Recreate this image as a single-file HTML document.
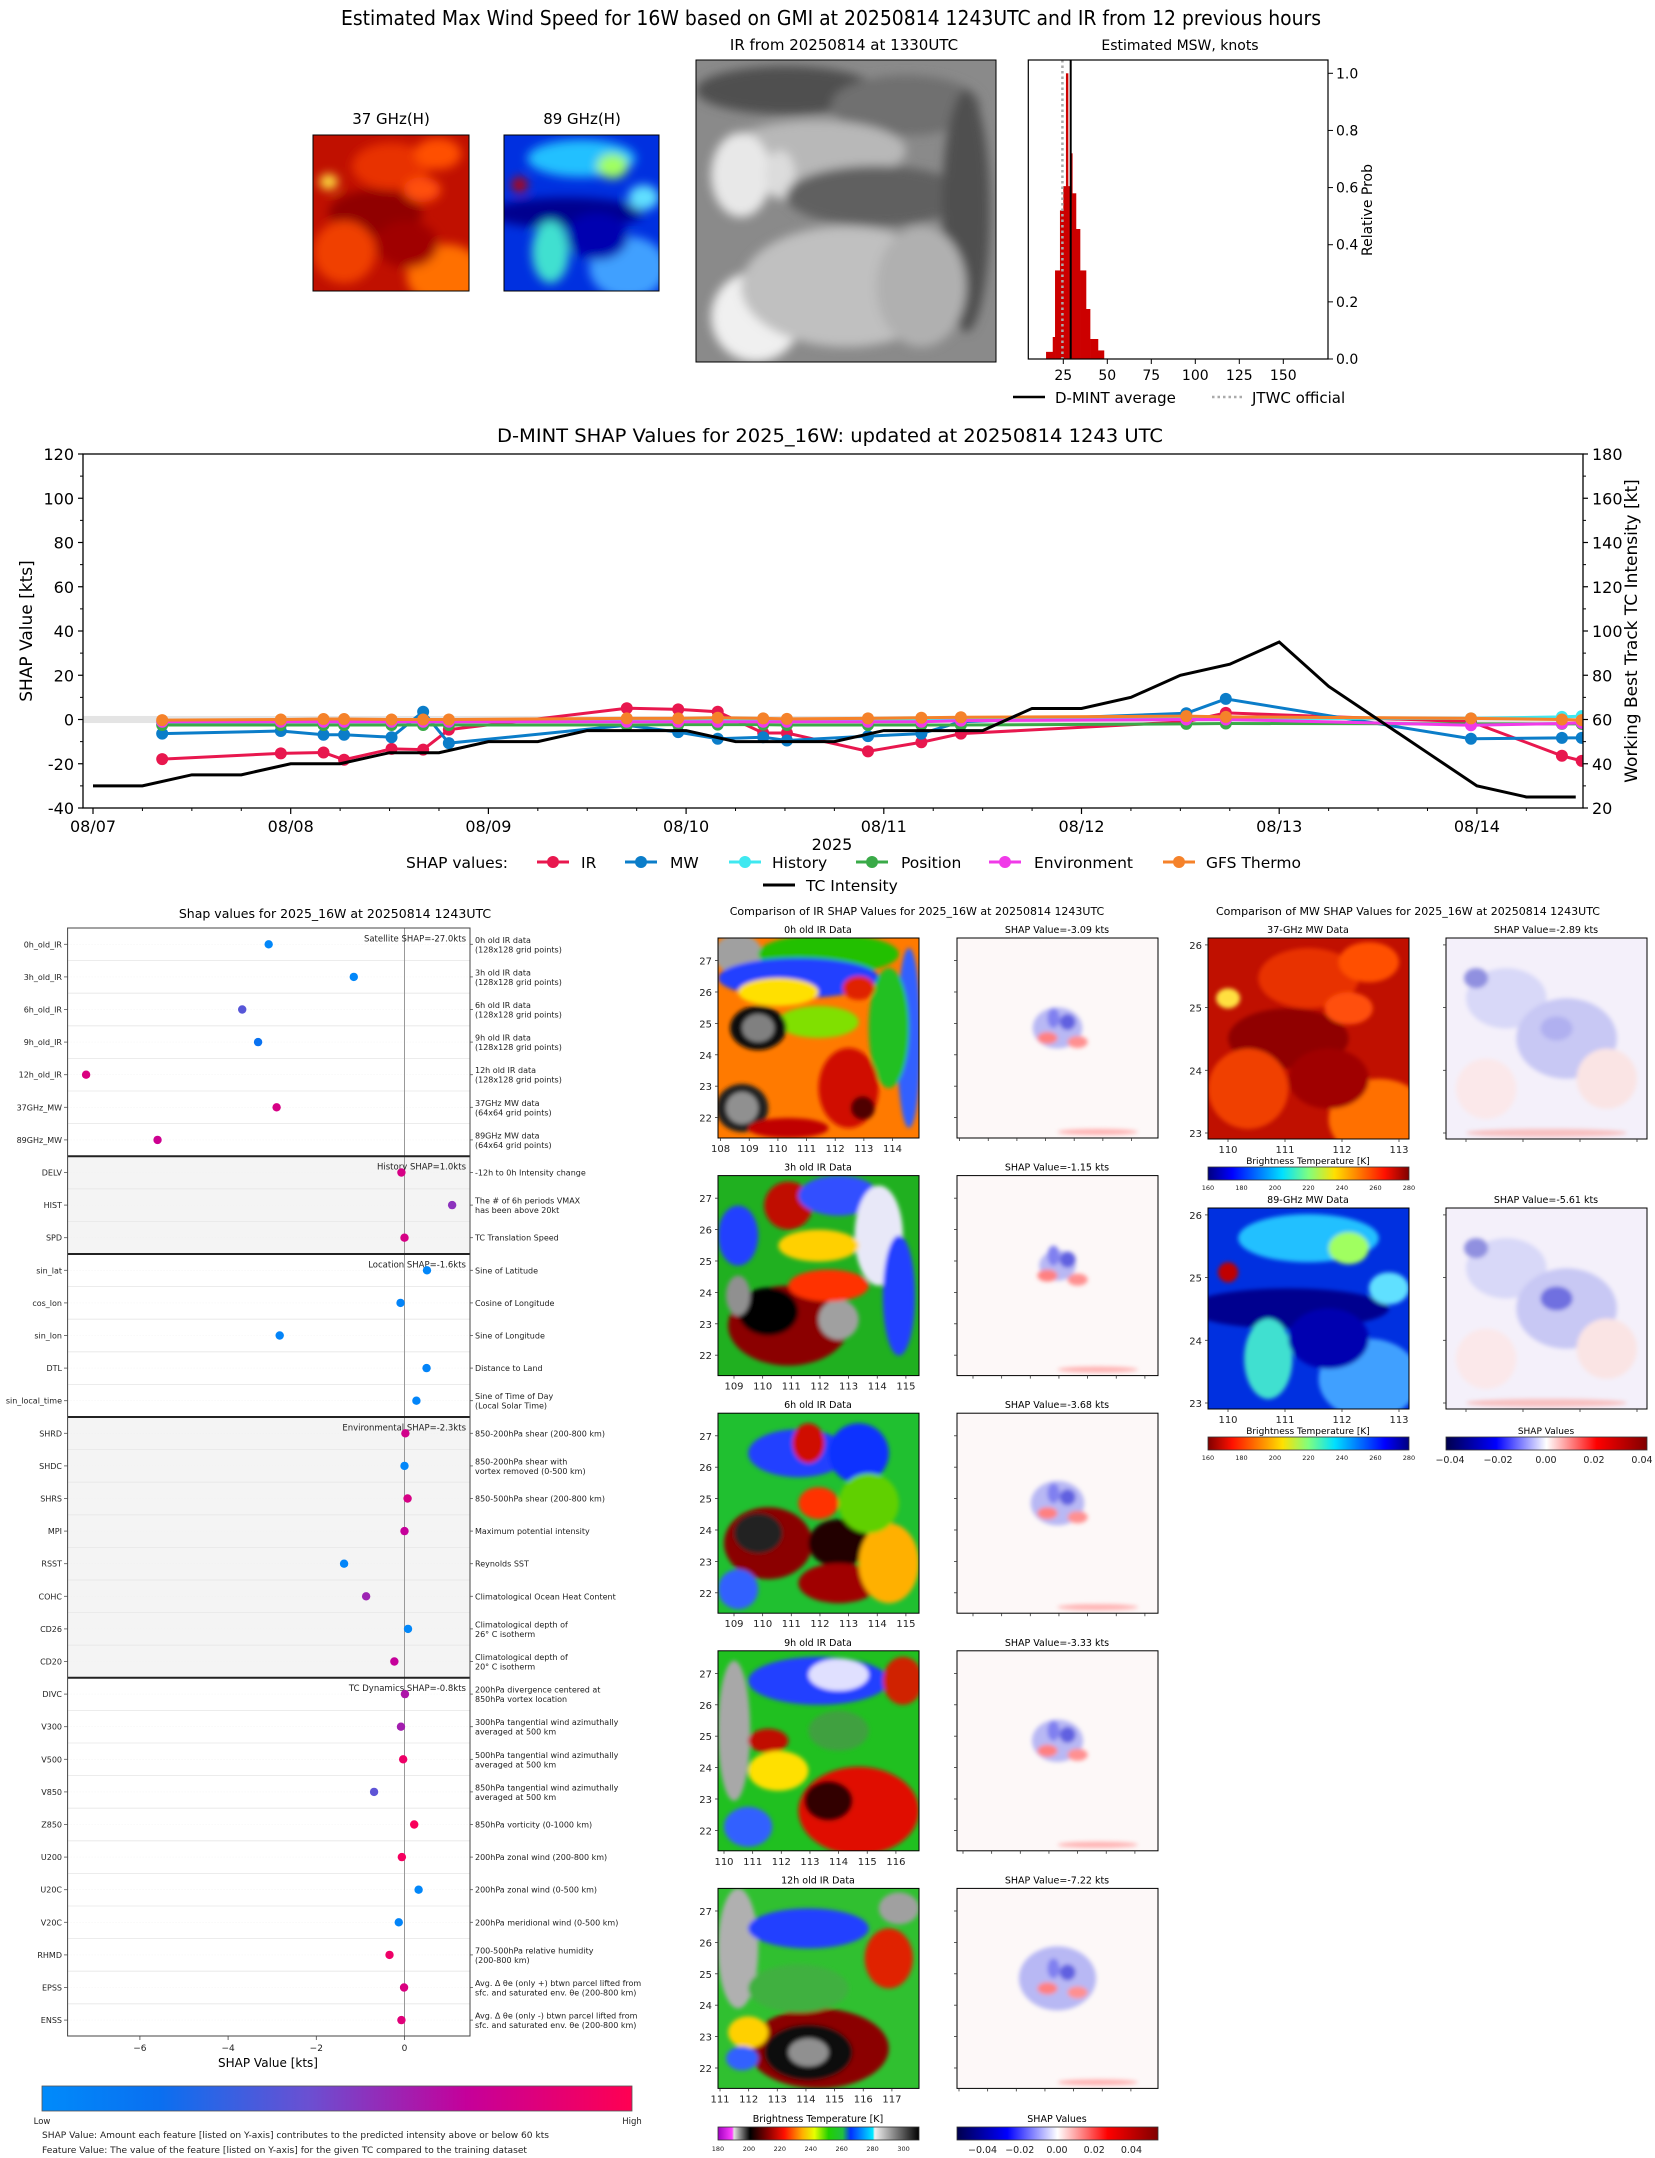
<!DOCTYPE html>
<html><head><meta charset="utf-8">
<style>
html,body{margin:0;padding:0;background:#fff;}
svg{display:block;font-family:"DejaVu Sans","Liberation Sans",sans-serif;}
</style></head>
<body>
<svg id="root" width="1655" height="2158" viewBox="0 0 1655 2158" xmlns="http://www.w3.org/2000/svg">
<defs>
<filter id="bl" x="-20%" y="-20%" width="140%" height="140%"><feGaussianBlur stdDeviation="5"/></filter>
<filter id="bl2" x="-20%" y="-20%" width="140%" height="140%"><feGaussianBlur stdDeviation="2"/></filter>
<linearGradient id="gShap" x1="0" x2="1"><stop offset="0" stop-color="#008bfb"/><stop offset="0.2" stop-color="#0a6ff0"/><stop offset="0.45" stop-color="#6a50d2"/><stop offset="0.72" stop-color="#c5009a"/><stop offset="1" stop-color="#ff0052"/></linearGradient>
<linearGradient id="gIR" x1="0" x2="1"><stop offset="0" stop-color="#a000c0"/><stop offset="0.07" stop-color="#ff40ff"/><stop offset="0.08" stop-color="#e0e0e0"/><stop offset="0.16" stop-color="#000"/><stop offset="0.25" stop-color="#8b0000"/><stop offset="0.33" stop-color="#ff1000"/><stop offset="0.42" stop-color="#ffb000"/><stop offset="0.48" stop-color="#e8ff00"/><stop offset="0.55" stop-color="#20d000"/><stop offset="0.62" stop-color="#20c040"/><stop offset="0.66" stop-color="#0030ff"/><stop offset="0.77" stop-color="#00e8ff"/><stop offset="0.78" stop-color="#f0f0f0"/><stop offset="1" stop-color="#000"/></linearGradient>
<linearGradient id="gJet" x1="0" x2="1"><stop offset="0" stop-color="#00007f"/><stop offset="0.12" stop-color="#0000ff"/><stop offset="0.37" stop-color="#00e0ff"/><stop offset="0.5" stop-color="#7fff7f"/><stop offset="0.63" stop-color="#ffe000"/><stop offset="0.88" stop-color="#ff1000"/><stop offset="1" stop-color="#7f0000"/></linearGradient>
<linearGradient id="gJetR" x1="1" x2="0"><stop offset="0" stop-color="#00007f"/><stop offset="0.12" stop-color="#0000ff"/><stop offset="0.37" stop-color="#00e0ff"/><stop offset="0.5" stop-color="#7fff7f"/><stop offset="0.63" stop-color="#ffe000"/><stop offset="0.88" stop-color="#ff1000"/><stop offset="1" stop-color="#7f0000"/></linearGradient>
<linearGradient id="gSeis" x1="0" x2="1"><stop offset="0" stop-color="#00004c"/><stop offset="0.25" stop-color="#0000ff"/><stop offset="0.5" stop-color="#ffffff"/><stop offset="0.75" stop-color="#ff0000"/><stop offset="1" stop-color="#800000"/></linearGradient>
<clipPath id="mainClip"><rect x="83" y="454" width="1500" height="354"/></clipPath>
</defs>
</svg>
<script>
const NS='http://www.w3.org/2000/svg';
const root=document.getElementById('root');
function mk(tag,attrs,parent,name,inter){
  const el=document.createElementNS(NS,tag);
  for(const k in attrs) el.setAttribute(k,attrs[k]);
  
  
  (parent||root).appendChild(el);
  return el;
}
function txt(x,y,s,size,anchor,parent,name,extra){
  const a={x:x,y:y,'font-size':size,'text-anchor':anchor||'start',fill:'#000'};
  if(extra) for(const k in extra) a[k]=extra[k];
  const el=mk('text',a,parent,name);
  el.textContent=s;
  return el;
}
function line(x1,y1,x2,y2,stroke,w,parent,name,extra){
  const a={x1:x1,y1:y1,x2:x2,y2:y2,stroke:stroke,'stroke-width':w};
  if(extra) for(const k in extra) a[k]=extra[k];
  return mk('line',a,parent,name);
}
function blobs(x,y,w,h,base,list,name,blurId){
  const g=mk('g',{},root,name);
  const cid='c'+name;
  const cp=mk('clipPath',{id:cid},g,name+'-clip');
  mk('rect',{x:x,y:y,width:w,height:h},cp,name+'-cliprect');
  const inner=mk('g',{'clip-path':'url(#'+cid+')'},g,name+'-content');
  mk('rect',{x:x,y:y,width:w,height:h,fill:base},inner,name+'-base');
  const bg=mk('g',{filter:'url(#'+(blurId||'bl')+')'},inner,name+'-blobs');
  list.forEach(b=>{
    mk('ellipse',{cx:x+b[0]*w,cy:y+b[1]*h,rx:b[2]*w,ry:b[3]*h,fill:b[4]},bg,name+'-patch');
  });
  mk('rect',{x:x,y:y,width:w,height:h,fill:'none',stroke:'#000','stroke-width':1},g,name+'-frame');
  return g;
}

/* ================= TOP SECTION ================= */
txt(831,25,'Estimated Max Wind Speed for 16W based on GMI at 20250814 1243UTC and IR from 12 previous hours',20,'middle',root,'figure-title',{textLength:980,lengthAdjust:'spacingAndGlyphs'});
txt(391,124,'37 GHz(H)',15,'middle',root,'title-37ghz');
txt(582,124,'89 GHz(H)',15,'middle',root,'title-89ghz');
txt(844,50,'IR from 20250814 at 1330UTC',15,'middle',root,'title-ir-image');
txt(1180,50,'Estimated MSW, knots',14,'middle',root,'title-msw-histogram');

const mw37=[[0.1,0.3,0.06,0.05,'#ffe040'],[0.5,0.2,0.25,0.15,'#e83000'],[0.8,0.12,0.15,0.1,'#ff5000'],[0.4,0.5,0.3,0.15,'#900000'],[0.2,0.75,0.2,0.2,'#f04000'],[0.85,0.9,0.25,0.2,'#ff7000'],[0.6,0.7,0.2,0.15,'#a00000'],[0.7,0.35,0.12,0.08,'#ff5010']];
const mw89=[[0.1,0.32,0.05,0.05,'#c00000'],[0.5,0.15,0.35,0.12,'#20c0ff'],[0.7,0.2,0.1,0.08,'#a0ff60'],[0.4,0.5,0.5,0.1,'#00008f'],[0.3,0.75,0.12,0.2,'#40e0d0'],[0.8,0.85,0.25,0.2,'#40a0ff'],[0.9,0.4,0.1,0.08,'#60e0ff'],[0.6,0.65,0.2,0.15,'#0000b0']];
blobs(313,135,156,156,'#c01000',mw37,'top-37ghz-image');
blobs(504,135,155,156,'#0030e0',mw89,'top-89ghz-image');
blobs(696,60,300,302,'#8a8a8a',[[0.3,0.1,0.3,0.08,'#505050'],[0.7,0.15,0.25,0.1,'#707070'],[0.4,0.3,0.3,0.1,'#b8b8b8'],[0.15,0.38,0.1,0.14,'#e8e8e8'],[0.28,0.38,0.05,0.08,'#dcdcdc'],[0.6,0.45,0.3,0.1,'#606060'],[0.2,0.85,0.15,0.15,'#f0f0f0'],[0.5,0.75,0.35,0.2,'#c0c0c0'],[0.9,0.5,0.08,0.4,'#505050'],[0.75,0.75,0.15,0.2,'#b0b0b0']],'top-ir-image');

/* histogram */
const histEdges=[15.2,19.0,20.3,23.1,25.0,26.5,27.7,28.8,30.1,32.2,34.5,37.9,40.2,44.7,48.1];
const histProb=[0.025,0.077,0.31,0.52,0.605,1.0,0.605,0.72,0.58,0.455,0.31,0.175,0.07,0.03];
const histXTicks=[25,50,75,100,125,150];
const histYTicks=[0.0,0.2,0.4,0.6,0.8,1.0];
const dmintMean=29.2, jtwcOfficial=24.5;
const hx=k=>1019.3+k*1.76, hy=p=>359-p*285.7;
const hg=mk('g',{},root,'msw-histogram');
for(let i=0;i<histProb.length;i++){
  mk('rect',{x:hx(histEdges[i]),y:hy(histProb[i]),width:hx(histEdges[i+1])-hx(histEdges[i])+0.3,height:hy(0)-hy(histProb[i]),fill:'#cc0000'},hg,'hist-bar');
}
line(hx(jtwcOfficial),60,hx(jtwcOfficial),359,'#aaa',2.5,hg,'jtwc-official-line',{'stroke-dasharray':'2.5,3'});
line(hx(dmintMean),60,hx(dmintMean),359,'#000',2,hg,'dmint-average-line');
mk('rect',{x:1028.3,y:60,width:299.7,height:299,fill:'none',stroke:'#000','stroke-width':1.2},hg,'hist-frame');
histXTicks.forEach(v=>{line(hx(v),359,hx(v),364,'#000',1,hg,'hist-xtick');txt(hx(v),380,String(v),14,'middle',hg,'hist-xtick-label');});
histYTicks.forEach(v=>{line(1328,hy(v),1333,hy(v),'#000',1,hg,'hist-ytick');txt(1336,hy(v)+5,v.toFixed(1),14,'start',hg,'hist-ytick-label');});
txt(1372,210,'Relative Prob',14,'middle',hg,'hist-y-title',{transform:'rotate(-90 1372 210)'});
line(1013,397,1045,397,'#000',2.5,hg,'legend-dmint-swatch');
txt(1055,403,'D-MINT average',15,'start',hg,'legend-dmint-average');
line(1212,397,1243,397,'#aaa',2.5,hg,'legend-jtwc-swatch',{'stroke-dasharray':'2.5,3'});
txt(1252,403,'JTWC official',15,'start',hg,'legend-jtwc-official');

/* ================= MAIN TIME SERIES ================= */
const dayLabels=['08/07','08/08','08/09','08/10','08/11','08/12','08/13','08/14'];
const leftTicks=[-40,-20,0,20,40,60,80,100,120];
const rightTicks=[20,40,60,80,100,120,140,160,180];
const shapTimes=[0.35,0.95,1.166,1.27,1.51,1.67,1.80,2.70,2.96,3.16,3.39,3.51,3.92,4.19,4.39,5.53,5.73,6.97,7.43,7.53];
const irVals=[-17.9,-15.3,-14.9,-18.2,-13.3,-13.6,-4.6,5.1,4.6,3.5,-6.1,-6.1,-14.4,-10.3,-6.4,-1.0,3.0,-1.0,-16.4,-18.7];
const mwVals=[-6.4,-5.2,-6.9,-6.9,-8.0,3.5,-10.7,-2.6,-5.7,-8.7,-8.0,-9.5,-7.5,-6.4,-1.0,2.8,9.3,-8.7,-8.3,-8.3];
const histVals=[-1.5,-1,-1,-1,-1,-1,-1,-0.5,-0.5,-0.5,-0.5,-0.5,0,0,0,0.5,0.5,0.5,1.2,1.5];
const posVals=[-2.5,-2.5,-2.5,-2.5,-2.5,-2.5,-2.5,-2.5,-2.3,-2.3,-2.3,-2.5,-2.5,-2.5,-2.5,-2.0,-1.8,-2.0,-2.0,-2.0];
const envVals=[-1,-1,-1,-1,-1,-1,-1,-1,-1,-1,-1,-1,-1,-1,-0.5,0,0,-2.6,-1.8,-1.5];
const gfsVals=[-0.3,0,0.2,0.2,0,0,0,0.5,0.5,0.8,0.5,0.3,0.5,0.8,1.0,1.5,1.2,0.5,0,-0.3];
const tcTimes=[0,0.25,0.5,0.75,1,1.25,1.5,1.75,2,2.25,2.5,2.75,3,3.25,3.5,3.75,4,4.25,4.5,4.75,5,5.25,5.5,5.75,6,6.25,6.5,6.75,7,7.25,7.5];
const tcInt=[30,30,35,35,40,40,45,45,50,50,55,55,55,50,50,50,55,55,55,65,65,70,80,85,95,75,60,45,30,25,25];
const xT=d=>93+d*197.7, yS=v=>808-(v+40)*2.2125, yI=k=>yS(k-60);
const mg=mk('g',{},root,'shap-timeseries-chart');
txt(830,442,'D-MINT SHAP Values for 2025_16W: updated at 20250814 1243 UTC',19,'middle',mg,'timeseries-title',{textLength:666,lengthAdjust:'spacingAndGlyphs'});
const plot=mk('g',{'clip-path':'url(#mainClip)'},mg,'timeseries-plot-area');
mk('rect',{x:83,y:yS(1.6),width:1500,height:yS(-1.6)-yS(1.6),fill:'#e4e4e4'},plot,'zero-band');
const series=[['ir',irVals,'#e8174e'],['mw',mwVals,'#0b7dc9'],['history',histVals,'#3fe8f0'],['position',posVals,'#3aaa48'],['environment',envVals,'#f03ae8'],['gfs-thermo',gfsVals,'#f5822a']];
series.forEach(s=>{
  const pts=shapTimes.map((t,i)=>xT(t)+','+yS(s[1][i])).join(' ');
  mk('polyline',{points:pts,fill:'none',stroke:s[2],'stroke-width':3},plot,s[0]+'-line');
  shapTimes.forEach((t,i)=>{mk('circle',{cx:xT(t),cy:yS(s[1][i]),r:6,fill:s[2]},plot,s[0]+'-point');});
});
mk('polyline',{points:tcTimes.map((t,i)=>xT(t)+','+yI(tcInt[i])).join(' '),fill:'none',stroke:'#000','stroke-width':3},plot,'tc-intensity-line');
mk('rect',{x:83,y:454,width:1500,height:354,fill:'none',stroke:'#000','stroke-width':1.3},mg,'timeseries-frame');
leftTicks.forEach(v=>{line(78,yS(v),83,yS(v),'#000',1.2,mg,'left-ytick');txt(74,yS(v)+6,String(v),16,'end',mg,'left-ytick-label');});
for(let v=-30;v<120;v+=20){line(80,yS(v),83,yS(v),'#000',1,mg,'left-minor-tick');}
rightTicks.forEach(k=>{line(1583,yI(k),1588,yI(k),'#000',1.2,mg,'right-ytick');txt(1592,yI(k)+6,String(k),16,'start',mg,'right-ytick-label');});
for(let k=30;k<180;k+=20){line(1583,yI(k),1586,yI(k),'#000',1,mg,'right-minor-tick');}
dayLabels.forEach((d,i)=>{line(xT(i),808,xT(i),814,'#000',1.2,mg,'xtick');txt(xT(i),832,d,16,'middle',mg,'xtick-label');});
for(let q=0.25;q<7.5;q+=0.25){if(Math.abs(q-Math.round(q))>0.01)line(xT(q),808,xT(q),811,'#000',1,mg,'x-minor-tick');}
txt(832,850,'2025',16,'middle',mg,'x-axis-title');
txt(32,631,'SHAP Value [kts]',17,'middle',mg,'left-y-axis-title',{transform:'rotate(-90 32 631)'});
txt(1637,631,'Working Best Track TC Intensity [kt]',17,'middle',mg,'right-y-axis-title',{transform:'rotate(-90 1637 631)'});
txt(406,868,'SHAP values:',15.5,'start',mg,'legend-heading');
const legItems=[['IR','#e8174e',553,581],['MW','#0b7dc9',641,670],['History','#3fe8f0',745,772],['Position','#3aaa48',872,901],['Environment','#f03ae8',1005,1034],['GFS Thermo','#f5822a',1179,1206]];
legItems.forEach(l=>{
  line(l[2]-16,862,l[2]+16,862,l[1],3,mg,'legend-swatch-'+l[0].toLowerCase());
  mk('circle',{cx:l[2],cy:862,r:6,fill:l[1]},mg,'legend-marker');
  txt(l[3],868,l[0],15.5,'start',mg,'legend-entry-'+l[0].toLowerCase().replace(' ','-'));
});
line(763,885,795,885,'#000',3,mg,'legend-swatch-tc-intensity');
txt(806,891,'TC Intensity',15.5,'start',mg,'legend-entry-tc-intensity');

/* ================= SHAP FEATURE PANEL ================= */
const featNames=['0h_old_IR','3h_old_IR','6h_old_IR','9h_old_IR','12h_old_IR','37GHz_MW','89GHz_MW','DELV','HIST','SPD','sin_lat','cos_lon','sin_lon','DTL','sin_local_time','SHRD','SHDC','SHRS','MPI','RSST','COHC','CD26','CD20','DIVC','V300','V500','V850','Z850','U200','U20C','V20C','RHMD','EPSS','ENSS'];
const featShap=[-3.08,-1.15,-3.68,-3.32,-7.22,-2.9,-5.6,-0.07,1.08,0,0.51,-0.09,-2.83,0.5,0.27,0.02,0,0.07,0,-1.37,-0.87,0.08,-0.23,0.01,-0.08,-0.03,-0.69,0.22,-0.06,0.32,-0.13,-0.34,-0.01,-0.07];
const featValue=[0.03,0.03,0.4,0.18,0.82,0.8,0.76,0.8,0.55,0.8,0.03,0.05,0.05,0.05,0.04,0.78,0.03,0.8,0.72,0.04,0.6,0.03,0.72,0.65,0.62,0.92,0.42,0.97,0.95,0.03,0.05,0.92,0.82,0.85];
const featDesc=[['0h old IR data','(128x128 grid points)'],['3h old IR data','(128x128 grid points)'],['6h old IR data','(128x128 grid points)'],['9h old IR data','(128x128 grid points)'],['12h old IR data','(128x128 grid points)'],['37GHz MW data','(64x64 grid points)'],['89GHz MW data','(64x64 grid points)'],['-12h to 0h Intensity change'],['The # of 6h periods VMAX','has been above 20kt'],['TC Translation Speed'],['Sine of Latitude'],['Cosine of Longitude'],['Sine of Longitude'],['Distance to Land'],['Sine of Time of Day','(Local Solar Time)'],['850-200hPa shear (200-800 km)'],['850-200hPa shear with','vortex removed (0-500 km)'],['850-500hPa shear (200-800 km)'],['Maximum potential intensity'],['Reynolds SST'],['Climatological Ocean Heat Content'],['Climatological depth of','26° C isotherm'],['Climatological depth of','20° C isotherm'],['200hPa divergence centered at','850hPa vortex location'],['300hPa tangential wind azimuthally','averaged at 500 km'],['500hPa tangential wind azimuthally','averaged at 500 km'],['850hPa tangential wind azimuthally','averaged at 500 km'],['850hPa vorticity (0-1000 km)'],['200hPa zonal wind (200-800 km)'],['200hPa zonal wind (0-500 km)'],['200hPa meridional wind (0-500 km)'],['700-500hPa relative humidity','(200-800 km)'],['Avg. Δ θe (only +) btwn parcel lifted from','sfc. and saturated env. θe (200-800 km)'],['Avg. Δ θe (only -) btwn parcel lifted from','sfc. and saturated env. θe (200-800 km)']];
const groupNames=['Satellite SHAP=-27.0kts','History SHAP=1.0kts','Location SHAP=-1.6kts','Environmental SHAP=-2.3kts','TC Dynamics SHAP=-0.8kts'];
const groupStart=[0,7,10,15,23,34];
const shapXTicks=[-6,-4,-2,0];
const sx=v=>404.5+v*44.1, rowY=i=>944.3+i*32.6;
function cmapShap(t){
  const st=[[0,[0,139,251]],[0.2,[10,111,240]],[0.45,[106,80,210]],[0.72,[197,0,154]],[1,[255,0,82]]];
  for(let i=0;i<st.length-1;i++){if(t<=st[i+1][0]){const f=(t-st[i][0])/(st[i+1][0]-st[i][0]);const c=st[i][1].map((a,j)=>Math.round(a+(st[i+1][1][j]-a)*f));return 'rgb('+c.join(',')+')';}}
  return 'rgb(255,0,82)';
}
const sg=mk('g',{},root,'shap-feature-panel');
txt(335,918,'Shap values for 2025_16W at 20250814 1243UTC',12.5,'middle',sg,'shap-panel-title');
[1,3].forEach(gi=>{mk('rect',{x:67.6,y:928+groupStart[gi]*32.6,width:402.4,height:(groupStart[gi+1]-groupStart[gi])*32.6,fill:'#f4f4f4'},sg,'group-shading');});
for(let i=0;i<featNames.length;i++){
  line(67.6,928+i*32.6,470,928+i*32.6,'#e6e6e6',0.8,sg,'row-divider');
  line(67.6,rowY(i),470,rowY(i),'#f0f0f0',0.6,sg,'row-gridline',{'stroke-dasharray':'1,2'});
}
line(sx(0),928,sx(0),2036,'#999',1,sg,'zero-line');
for(let gi=0;gi<5;gi++){
  if(gi>0) line(67.6,928+groupStart[gi]*32.6,470,928+groupStart[gi]*32.6,'#222',2,sg,'group-separator');
  txt(466,rowY(groupStart[gi])-3,groupNames[gi],8.5,'end',sg,'group-label',{fill:'#222'});
}
featNames.forEach((n,i)=>{
  mk('circle',{cx:sx(featShap[i]),cy:rowY(i),r:4.2,fill:cmapShap(featValue[i])},sg,'shap-dot-'+n.toLowerCase());
  line(64,rowY(i),67.6,rowY(i),'#555',0.8,sg,'feature-tick');
  txt(62,rowY(i)+3,n,8,'end',sg,'feature-label',{fill:'#222'});
  line(470,rowY(i),473,rowY(i),'#555',0.8,sg,'desc-tick');
  const d=featDesc[i];
  if(d.length===1) txt(475,rowY(i)+3,d[0],8,'start',sg,'feature-description',{fill:'#222'});
  else {txt(475,rowY(i)-1.5,d[0],8,'start',sg,'feature-description',{fill:'#222'});txt(475,rowY(i)+8,d[1],8,'start',sg,'feature-description',{fill:'#222'});}
});
mk('rect',{x:67.6,y:928,width:402.4,height:1108,fill:'none',stroke:'#444','stroke-width':1},sg,'shap-panel-frame');
shapXTicks.forEach(v=>{line(sx(v),2036,sx(v),2040,'#444',0.8,sg,'shap-xtick');txt(sx(v),2051,(v<0?'−':'')+Math.abs(v),9,'middle',sg,'shap-xtick-label',{fill:'#222'});});
txt(268,2067,'SHAP Value [kts]',12,'middle',sg,'shap-x-axis-title');
mk('rect',{x:42,y:2086,width:590,height:25,fill:'url(#gShap)',stroke:'#555','stroke-width':0.8},sg,'feature-value-colorbar');
txt(42,2124,'Low',8.5,'middle',sg,'colorbar-low-label',{fill:'#222'});
txt(632,2124,'High',8.5,'middle',sg,'colorbar-high-label',{fill:'#222'});
txt(42,2138,'SHAP Value: Amount each feature [listed on Y-axis] contributes to the predicted intensity above or below 60 kts',8.6,'start',sg,'footnote-shap-value',{fill:'#222',textLength:507,lengthAdjust:'spacingAndGlyphs'});
txt(42,2153,'Feature Value: The value of the feature [listed on Y-axis] for the given TC compared to the training dataset',8.6,'start',sg,'footnote-feature-value',{fill:'#222',textLength:485,lengthAdjust:'spacingAndGlyphs'});

/* ================= IR SHAP COMPARISON ================= */
txt(917,915,'Comparison of IR SHAP Values for 2025_16W at 20250814 1243UTC',11,'middle',root,'ir-comparison-title');
txt(1408,915,'Comparison of MW SHAP Values for 2025_16W at 20250814 1243UTC',11,'middle',root,'mw-comparison-title');
const irLabels=['0h old IR Data','3h old IR Data','6h old IR Data','9h old IR Data','12h old IR Data'];
const irShapVals=['-3.09','-1.15','-3.68','-3.33','-7.22'];
const irLon0=[108,109,109,110,111];
const irLonOff=[2.6,16,16,6,2];
const latTicks=[22,23,24,25,26,27];
const irImgs=[
 ['#ff7a00',[[0.1,0.08,0.12,0.1,'#a0a0a0'],[0.55,0.08,0.35,0.1,'#22c000'],[0.4,0.2,0.4,0.1,'#2040ff'],[0.3,0.27,0.2,0.07,'#ffe000'],[0.95,0.5,0.06,0.45,'#3060ff'],[0.85,0.45,0.1,0.3,'#20c020'],[0.5,0.42,0.2,0.08,'#80e000'],[0.2,0.45,0.14,0.11,'#101010'],[0.2,0.45,0.08,0.07,'#808080'],[0.12,0.85,0.13,0.12,'#202020'],[0.12,0.85,0.08,0.08,'#909090'],[0.65,0.75,0.15,0.2,'#d01000'],[0.72,0.85,0.06,0.06,'#500000'],[0.35,0.95,0.2,0.05,'#c00000'],[0.7,0.25,0.08,0.06,'#e02000']]],
 ['#20b020',[[0.35,0.15,0.12,0.12,'#c01000'],[0.6,0.1,0.2,0.1,'#3050ff'],[0.8,0.3,0.12,0.25,'#e8e8f8'],[0.9,0.6,0.08,0.3,'#2040ff'],[0.1,0.3,0.1,0.15,'#2040ff'],[0.5,0.35,0.2,0.08,'#ffd000'],[0.35,0.75,0.3,0.2,'#8b0000'],[0.25,0.68,0.15,0.12,'#000'],[0.1,0.6,0.06,0.1,'#909090'],[0.6,0.72,0.1,0.1,'#a0a0a0'],[0.55,0.55,0.2,0.08,'#ff3000']]],
 ['#20c030',[[0.4,0.2,0.25,0.12,'#2040ff'],[0.45,0.15,0.08,0.1,'#d01000'],[0.7,0.2,0.15,0.15,'#1030ff'],[0.25,0.65,0.22,0.18,'#8b0000'],[0.2,0.6,0.12,0.1,'#202020'],[0.6,0.65,0.15,0.12,'#200000'],[0.6,0.85,0.2,0.1,'#a00000'],[0.85,0.75,0.15,0.2,'#ffb000'],[0.75,0.45,0.15,0.15,'#60d000'],[0.1,0.88,0.1,0.1,'#3060ff'],[0.5,0.45,0.1,0.08,'#ff3000']]],
 ['#20c020',[[0.08,0.4,0.08,0.35,'#a8a8a8'],[0.5,0.15,0.35,0.12,'#2040ff'],[0.6,0.12,0.15,0.08,'#e0e0ff'],[0.7,0.8,0.3,0.22,'#e01000'],[0.55,0.75,0.12,0.1,'#300000'],[0.25,0.45,0.1,0.06,'#c01000'],[0.3,0.6,0.15,0.1,'#ffe000'],[0.15,0.88,0.12,0.1,'#3060ff'],[0.92,0.15,0.1,0.12,'#d02000'],[0.6,0.4,0.15,0.1,'#40a040']]],
 ['#30c030',[[0.1,0.3,0.1,0.3,'#b0b0b0'],[0.45,0.2,0.3,0.1,'#2040ff'],[0.9,0.1,0.1,0.08,'#a0a0a0'],[0.85,0.35,0.12,0.15,'#e02000'],[0.5,0.8,0.35,0.2,'#8b0000'],[0.45,0.82,0.22,0.14,'#101010'],[0.45,0.82,0.1,0.07,'#909090'],[0.4,0.5,0.25,0.12,'#40b040'],[0.15,0.72,0.1,0.08,'#ffd000'],[0.12,0.85,0.08,0.06,'#3060ff']]]
];
for(let r=0;r<5;r++){
  const top=938+r*237.6;
  txt(818,top-5,irLabels[r],9.5,'middle',root,'ir-panel-title-'+r);
  blobs(718,top,201,200,irImgs[r][0],irImgs[r][1],'ir-image-'+r,'bl2');
  latTicks.forEach(l=>{const yy=top+200-(l-21.35)*31.4;line(715,yy,718,yy,'#333',0.8,root,'lat-tick');txt(712,yy+4,String(l),10,'end',root,'lat-tick-label',{fill:'#222'});});
  for(let k=0;k<7;k++){const xx=718+irLonOff[r]+k*28.65;line(xx,top+200,xx,top+203,'#333',0.8,root,'lon-tick');txt(xx,top+214,String(irLon0[r]+k),10,'middle',root,'lon-tick-label',{fill:'#222'});}
  txt(1057,top-5,'SHAP Value='+irShapVals[r]+' kts',9.5,'middle',root,'ir-shap-title-'+r);
  const amp=Math.min(1,Math.abs(parseFloat(irShapVals[r]))/7.22);
  blobs(957,top,201,200,'#fdf8f8',[[0.5,0.45,0.12*(0.6+amp),0.1*(0.6+amp),'#b8b8f4'],[0.45,0.5,0.05,0.03,'#ff8080'],[0.55,0.42,0.04,0.04,'#6060e0'],[0.6,0.52,0.05,0.03,'#ff9090'],[0.48,0.4,0.03,0.05,'#8080f0'],[0.7,0.97,0.2,0.015,'#ffb0b0']],'ir-shap-map-'+r,'bl2');
  latTicks.forEach(l=>{const yy=top+200-(l-21.35)*31.4;line(954,yy,957,yy,'#333',0.8,root,'shap-lat-tick');});
  for(let k=0;k<7;k++){const xx=957+irLonOff[r]+k*28.65;line(xx,top+200,xx,top+203,'#333',0.8,root,'shap-lon-tick');}
}
txt(818,2122,'Brightness Temperature [K]',9.5,'middle',root,'ir-colorbar-title');
mk('rect',{x:718,y:2127,width:201,height:13,fill:'url(#gIR)',stroke:'#333','stroke-width':0.8},root,'ir-colorbar');
const irCbTicks=[180,200,220,240,260,280,300];
irCbTicks.forEach(v=>{const xx=718+(v-180)/130*201;txt(xx,2151,String(v),6.5,'middle',root,'ir-colorbar-tick',{fill:'#222'});});
txt(1057,2122,'SHAP Values',9.5,'middle',root,'ir-shap-colorbar-title');
mk('rect',{x:957,y:2127,width:201,height:13,fill:'url(#gSeis)',stroke:'#333','stroke-width':0.8},root,'ir-shap-colorbar');
const shapCbTicks=[-0.04,-0.02,0,0.02,0.04];
shapCbTicks.forEach(v=>{const xx=1057+v/0.054*100.5;txt(xx,2153,(v<0?'−':'')+Math.abs(v).toFixed(2),9.5,'middle',root,'ir-shap-colorbar-tick',{fill:'#222'});});

/* ================= MW SHAP COMPARISON ================= */
const mwLabels=['37-GHz MW Data','89-GHz MW Data'];
const mwShapVals=['-2.89','-5.61'];
const mwLonTicks=[110,111,112,113];
const mwLatTicks=[23,24,25,26];
const mwTops=[938,1208];
for(let r=0;r<2;r++){
  const top=mwTops[r];
  txt(1308,top-5,mwLabels[r],9.5,'middle',root,'mw-panel-title-'+r);
  blobs(1208,top,201,201,r===0?'#c01000':'#0030e0',r===0?mw37:mw89,'mw-image-'+r,'bl2');
  mwLatTicks.forEach(l=>{const yy=top+195-(l-23)*62.7;line(1205,yy,1208,yy,'#333',0.8,root,'mw-lat-tick');txt(1202,yy+4,String(l),10,'end',root,'mw-lat-tick-label',{fill:'#222'});});
  mwLonTicks.forEach(l=>{const xx=1228+(l-110)*57;line(xx,top+201,xx,top+204,'#333',0.8,root,'mw-lon-tick');txt(xx,top+215,String(l),10,'middle',root,'mw-lon-tick-label',{fill:'#222'});});
  txt(1308,top+226,'Brightness Temperature [K]',9,'middle',root,'mw-colorbar-title-'+r);
  mk('rect',{x:1208,y:top+229,width:201,height:13,fill:r===0?'url(#gJet)':'url(#gJetR)',stroke:'#333','stroke-width':0.8},root,'mw-colorbar-'+r);
  [160,180,200,220,240,260,280].forEach(v=>{txt(1208+(v-160)/120*201,top+252,String(v),6.5,'middle',root,'mw-colorbar-tick',{fill:'#222'});});
  txt(1546,top-5,'SHAP Value='+mwShapVals[r]+' kts',9.5,'middle',root,'mw-shap-title-'+r);
  blobs(1446,top,201,201,'#f4f0fa',[[0.3,0.3,0.2,0.15,'#d8d8f8'],[0.6,0.5,0.25,0.2,'#c8c8f4'],[0.15,0.2,0.06,0.05,'#9090e0'],[0.8,0.7,0.15,0.15,'#fae4e4'],[0.2,0.75,0.15,0.15,'#fbe8ea'],[0.5,0.97,0.4,0.02,'#f8c0c0'],[0.55,0.45,0.08,0.06,r===1?'#7070e0':'#b0b0f0']],'mw-shap-map-'+r,'bl2');
  mwLatTicks.forEach(l=>{const yy=top+195-(l-23)*62.7;line(1443,yy,1446,yy,'#333',0.8,root,'mw-shap-lat-tick');});
  mwLonTicks.forEach(l=>{const xx=1466+(l-110)*57;line(xx,top+201,xx,top+204,'#333',0.8,root,'mw-shap-lon-tick');});
}
txt(1546,1434,'SHAP Values',9,'middle',root,'mw-shap-colorbar-title');
mk('rect',{x:1446,y:1437,width:201,height:13,fill:'url(#gSeis)',stroke:'#333','stroke-width':0.8},root,'mw-shap-colorbar');
shapCbTicks.forEach(v=>{txt(1546+v/0.04*96,1463,(v<0?'−':'')+Math.abs(v).toFixed(2),9.5,'middle',root,'mw-shap-colorbar-tick',{fill:'#222'});});
</script>
</body></html>
